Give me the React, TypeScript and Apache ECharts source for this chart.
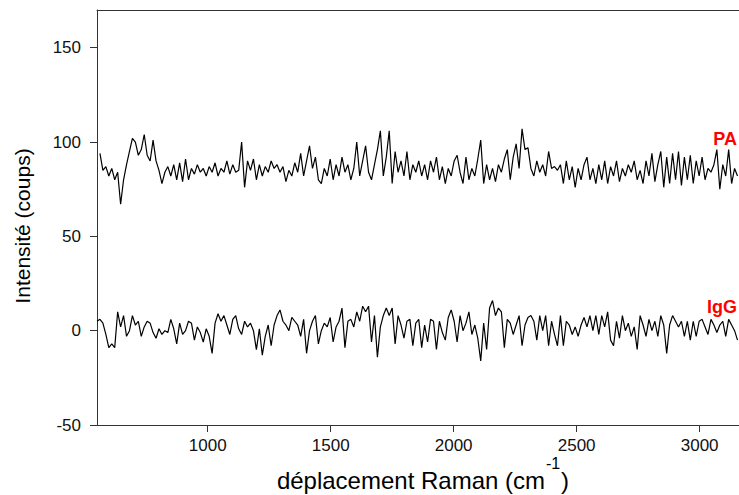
import React, { useEffect, useRef } from "react";
import * as echarts from "echarts";

// Raman shift grid (cm-1)
const WAVE_START = 550;
const WAVE_STEP = 12;

// PA spectrum (counts); the trace begins just after the axis start
const paCounts: (number | null)[] = [
  null, 94, 85, 87, 82, 86, 80, 84, 67, 80,
  88, 95, 102, 100, 93, 96, 104, 93, 90, 101,
  90, 85, 78, 84, 87, 82, 88, 80, 89, 79,
  91, 80, 86, 83, 88, 84, 86, 82, 87, 84,
  89, 82, 86, 84, 90, 83, 88, 84, 85, 100,
  76, 90, 85, 91, 80, 88, 82, 87, 84, 90,
  86, 88, 84, 87, 79, 85, 82, 89, 84, 94,
  82, 90, 98, 86, 92, 80, 78, 86, 82, 91,
  80, 88, 82, 92, 84, 88, 80, 86, 100, 82,
  90, 98, 84, 80, 88, 96, 106, 82, 92, 106,
  78, 95, 84, 90, 82, 95, 80, 88, 84, 90,
  82, 88, 80, 90, 84, 92, 80, 87, 78, 86,
  82, 90, 93, 84, 78, 92, 80, 86, 82, 91,
  101, 78, 88, 80, 86, 79, 88, 84, 91, 96,
  80, 92, 99, 86, 107, 96, 97, 86, 82, 90,
  84, 88, 82, 95, 86, 87, 85, 88, 78, 90,
  80, 87, 76, 86, 80, 88, 92, 80, 86, 78,
  88, 80, 90, 78, 87, 82, 90, 79, 86, 82,
  88, 84, 90, 80, 85, 78, 90, 82, 94, 79,
  88, 95, 76, 92, 78, 94, 80, 95, 77, 92,
  80, 93, 78, 90, 82, 92, 80, 86, 84, 88,
  96, 75, 88, 82, 96, 78, 86, 82,
];

// IgG spectrum (counts)
const iggCounts = [
  5, 6, 4, -2, -9, -7, -9, 10, 2, 8,
  -3, 0, 8, 3, 5, -3, 2, 5, 4, -1,
  -4, 1, -2, 0, -1, 6, 1, -7, 4, -2,
  0, 5, 4, -5, 2, -1, -6, 1, -3, -12,
  4, 9, 5, 8, 3, -2, 6, 8, 1, -2,
  5, 2, 4, 0, -10, 1, -13, -3, 3, -8,
  3, 8, 11, 5, 3, 0, 7, 5, 3, -3,
  6, -12, 0, 5, 8, -7, 0, 4, 2, 7,
  -6, 2, 5, 12, -9, 5, 6, 2, 10, 5,
  13, 10, 13, -6, 8, -14, 2, 8, 12, 8,
  12, -7, 8, 3, -4, 5, 6, -8, 4, 6,
  -9, 3, -6, 6, 5, -10, 5, -1, -5, 7,
  11, 5, -6, 8, 0, 4, 10, -2, 3, -4,
  -16, 4, -10, 12, 16, 8, 12, 10, -9, 6,
  4, -2, 3, 8, -8, 3, 7, 8, 5, -5,
  8, 0, 8, -8, 5, -2, -8, 8, -8, 5,
  3, -2, 2, -3, 3, 7, 2, 8, 0, 8,
  -2, 8, 2, 10, -5, -8, 5, -4, 8, 0,
  4, -3, 2, -10, 8, 3, -3, 6, 0, 5,
  -3, 8, 3, -12, 3, 8, 5, 2, 5, -3,
  5, -5, 5, -3, 5, 6, 2, -2, 6, 3,
  -1, 3, 5, -3, 6, 3, 0, -5,
];

const xTicks = [1000, 1500, 2000, 2500, 3000];
const yTicks = [-50, 0, 50, 100, 150];
const X_MIN = 550;
const X_MAX = 3160;
const Y_MIN = -50;
const Y_MAX = 170;

const seriesNames = ["PA", "IgG"];

const toPairs = (vals: (number | null)[]) =>
  vals.map((v, i) => [WAVE_START + i * WAVE_STEP, v]);

const FONT = "'Liberation Sans', Arial, Helvetica, sans-serif";
const AXIS_COLOR = "#333";

export default function App() {
  const ref = useRef<HTMLDivElement>(null);

  useEffect(() => {
    if (!ref.current) return;
    const chart = echarts.init(ref.current, null, { renderer: "svg" });
    chart.setOption({
      animation: false,
      grid: { left: 97, top: 10, right: 0, bottom: 70 },
      xAxis: [
        {
          type: "value",
          min: X_MIN,
          max: X_MAX,
          position: "bottom",
          axisLine: { show: true, onZero: false, lineStyle: { color: AXIS_COLOR, width: 1 } },
          axisTick: { show: true, length: 7, customValues: xTicks, lineStyle: { color: AXIS_COLOR } },
          axisLabel: {
            customValues: xTicks,
            fontSize: 17,
            color: "#111",
            margin: 12,
            fontFamily: FONT,
            formatter: (v: number) => String(v),
          },
          splitLine: { show: false },
        },
        {
          type: "value",
          min: X_MIN,
          max: X_MAX,
          position: "top",
          axisLine: { show: true, onZero: false, lineStyle: { color: AXIS_COLOR, width: 1 } },
          axisTick: { show: false },
          axisLabel: { show: false },
          splitLine: { show: false },
        },
      ],
      yAxis: {
        type: "value",
        min: Y_MIN,
        max: Y_MAX,
        axisLine: { show: true, onZero: false, lineStyle: { color: AXIS_COLOR, width: 1 } },
        axisTick: { show: true, length: 7, customValues: yTicks, lineStyle: { color: AXIS_COLOR } },
        axisLabel: {
          customValues: yTicks,
          fontSize: 17,
          color: "#111",
          margin: 16,
          fontFamily: FONT,
          formatter: (v: number) => String(v),
        },
        splitLine: { show: false },
      },
      series: [
        {
          name: seriesNames[0],
          type: "line",
          data: toPairs(paCounts),
          showSymbol: false,
          connectNulls: false,
          lineStyle: { color: "#000", width: 1.2 },
          z: 3,
        },
        {
          name: seriesNames[1],
          type: "line",
          data: toPairs(iggCounts),
          showSymbol: false,
          lineStyle: { color: "#000", width: 1.2 },
          z: 3,
        },
      ],
      graphic: [
        {
          type: "text",
          x: 22,
          y: 226,
          rotation: Math.PI / 2,
          style: {
            text: "Intensité (coups)",
            fontSize: 21,
            fontFamily: FONT,
            fill: "#000",
            align: "center",
            verticalAlign: "middle",
          },
        },
        {
          type: "text",
          x: 545,
          y: 480,
          style: {
            text: "déplacement Raman (cm",
            fontSize: 24,
            fontFamily: FONT,
            fill: "#000",
            align: "right",
            verticalAlign: "middle",
          },
        },
        {
          type: "text",
          x: 546,
          y: 463,
          style: {
            text: "-1",
            fontSize: 16,
            fontFamily: FONT,
            fill: "#000",
            align: "left",
            verticalAlign: "middle",
          },
        },
        {
          type: "text",
          x: 561,
          y: 480,
          style: {
            text: ")",
            fontSize: 24,
            fontFamily: FONT,
            fill: "#000",
            align: "left",
            verticalAlign: "middle",
          },
        },
        {
          type: "text",
          x: 737,
          y: 139,
          style: {
            text: seriesNames[0],
            fontSize: 18,
            fontWeight: "bold",
            fontFamily: FONT,
            fill: "#ff0000",
            align: "right",
            verticalAlign: "middle",
          },
        },
        {
          type: "text",
          x: 737,
          y: 307,
          style: {
            text: seriesNames[1],
            fontSize: 18,
            fontWeight: "bold",
            fontFamily: FONT,
            fill: "#ff0000",
            align: "right",
            verticalAlign: "middle",
          },
        },
      ],
    });
    return () => chart.dispose();
  }, []);

  return (
    <div
      ref={ref}
      style={{ position: "fixed", left: 0, top: 0, width: 739, height: 495, background: "#fff" }}
    />
  );
}
